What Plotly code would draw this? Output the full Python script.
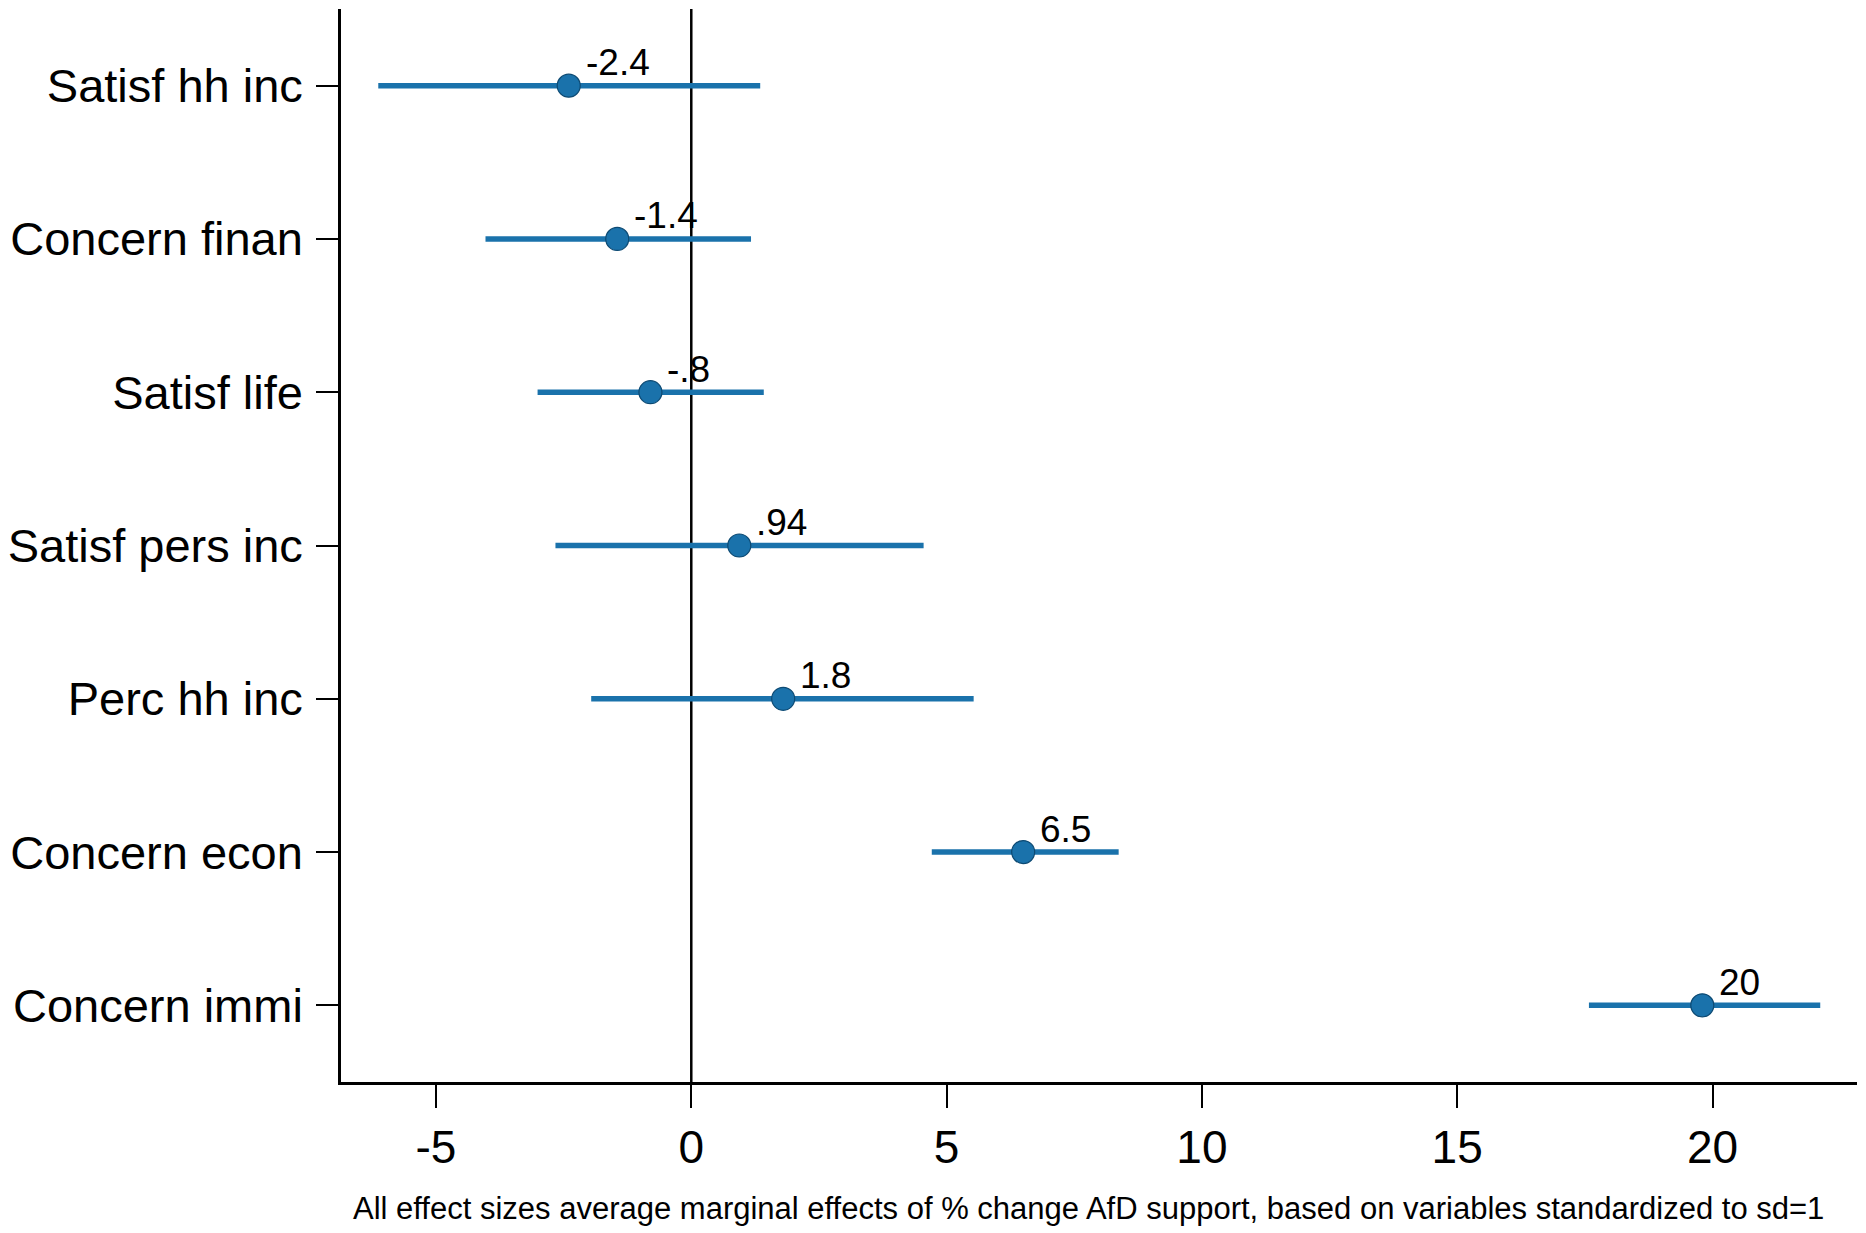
import plotly.graph_objects as go

categories = ["Satisf hh inc", "Concern finan", "Satisf life", "Satisf pers inc",
              "Perc hh inc", "Concern econ", "Concern immi"]
estimates = [-2.4, -1.45, -0.8, 0.94, 1.8, 6.5, 19.8]
ci_low = [-6.13, -4.03, -3.01, -2.66, -1.96, 4.71, 17.58]
ci_high = [1.35, 1.17, 1.42, 4.55, 5.53, 8.37, 22.11]
point_labels = ["-2.4", "-1.4", "-.8", ".94", "1.8", "6.5", "20"]
x_ticks = [-5, 0, 5, 10, 15, 20]
note = "All effect sizes average marginal effects of % change AfD support, based on variables standardized to sd=1"

BLUE = "#1a72ab"
FONT = "Liberation Sans, Arial, Helvetica, sans-serif"

plus = [h - e for h, e in zip(ci_high, estimates)]
minus = [e - l for e, l in zip(estimates, ci_low)]

fig = go.Figure()
fig.add_trace(go.Scatter(
    x=estimates, y=categories, mode="markers",
    marker=dict(size=23, color=BLUE, line=dict(color="#0d4a73", width=1.2)),
    error_x=dict(type="data", symmetric=False, array=plus, arrayminus=minus,
                 color=BLUE, thickness=5.5, width=0),
    showlegend=False, cliponaxis=False,
))

fig.add_vline(x=0, line=dict(color="black", width=2.5), layer="below")

annotations = [dict(x=xv, y=cat, text=lab, xref="x", yref="y",
                    xanchor="left", yanchor="middle", xshift=15, yshift=23,
                    showarrow=False, font=dict(size=37, family=FONT, color="black"))
               for xv, cat, lab in zip(estimates, categories, point_labels)]
annotations.append(dict(text=note, xref="paper", yref="paper", x=0.0068, y=-0.1177,
                        xanchor="left", yanchor="middle", showarrow=False,
                        font=dict(size=31, family=FONT, color="black")))

fig.update_layout(
    width=1866, height=1233,
    margin=dict(l=333, r=17, t=1, b=159),
    paper_bgcolor="white", plot_bgcolor="white",
    font=dict(family=FONT, color="black"),
    xaxis=dict(range=[-6.86, 22.83], tickvals=x_ticks,
               ticktext=[str(t) for t in x_ticks], automargin=False,
               showgrid=False, zeroline=False, showline=True,
               linecolor="black", linewidth=2.5, ticks="outside",
               ticklen=23, tickwidth=2, tickcolor="black",
               tickfont=dict(size=46, family=FONT), ticklabelstandoff=0),
    yaxis=dict(range=[6.5, -0.5], type="category", categoryorder="array",
               categoryarray=categories, autorange=False, automargin=False,
               showgrid=False, zeroline=False, showline=True,
               linecolor="black", linewidth=2.5, ticks="outside",
               ticklen=22, tickwidth=2, tickcolor="black",
               tickfont=dict(size=47, family=FONT), ticklabelstandoff=4),
    annotations=annotations,
)

fig.write_html("out.html")
